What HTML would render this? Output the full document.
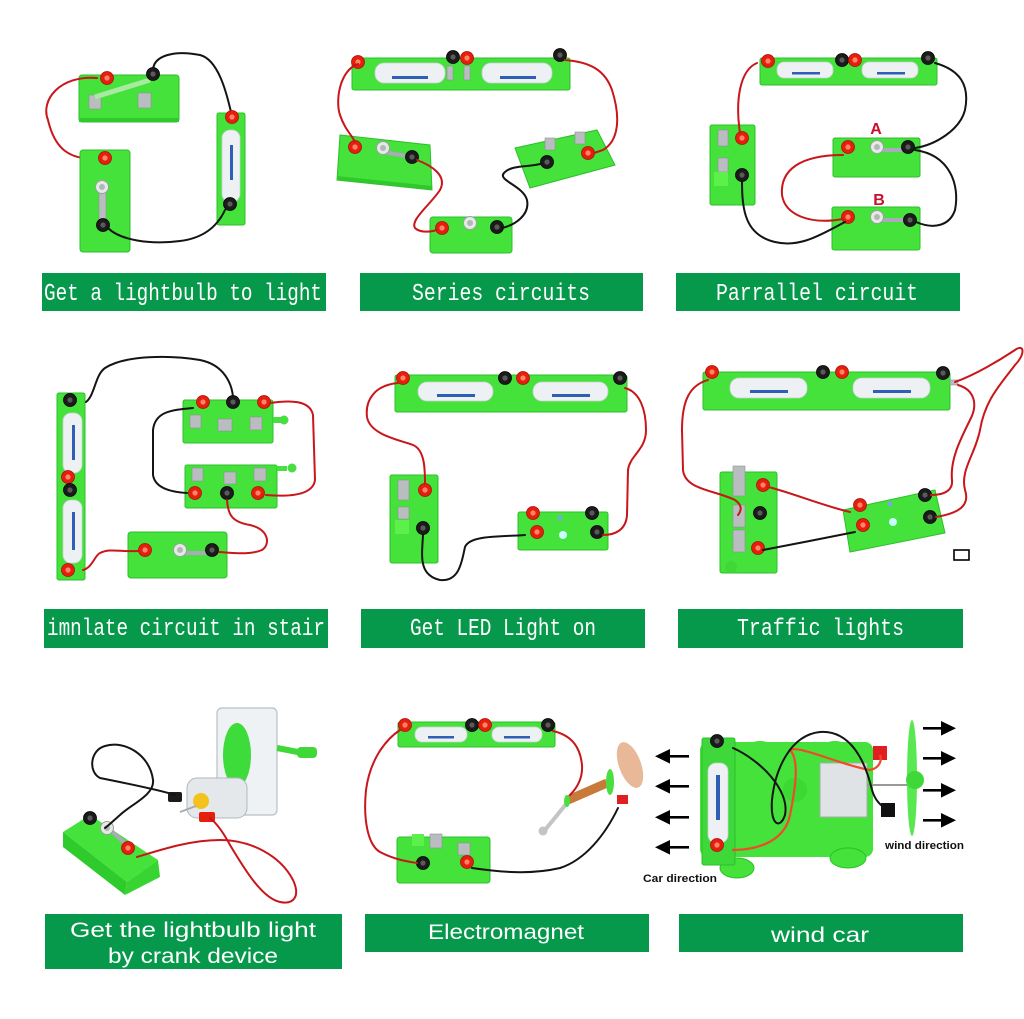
<!DOCTYPE html>
<html><head><meta charset="utf-8"><style>
html,body{margin:0;padding:0;background:#fff;}
svg{display:block;}
.b{fill:#44e23a;stroke:#2cbf2a;stroke-width:1;}
.bs{fill:#30c82c;}
.cell{fill:#eef1f3;stroke:#c9cfd3;stroke-width:.8;}
.blu{fill:#2f5fb5;}
.m{fill:#b9bdbf;stroke:#8e9396;stroke-width:.6;}
.wr{fill:none;stroke:#c8161a;stroke-width:2;stroke-linecap:round;}
.wk{fill:none;stroke:#141414;stroke-width:2;stroke-linecap:round;}
.bn{fill:#07994b;}
.t1{font-family:"Liberation Mono",monospace;font-size:24px;fill:#fff;}
.t3{font-family:"Liberation Sans",sans-serif;font-size:21px;fill:#fff;}
.lb{font-family:"Liberation Sans",sans-serif;font-size:11px;font-weight:bold;fill:#111;}
</style></head><body>
<svg width="1024" height="1019" viewBox="0 0 1024 1019" xmlns="http://www.w3.org/2000/svg">
<defs>
<g id="R"><circle r="6.5" fill="#e61e0e" stroke="#a8120a" stroke-width=".8"/><circle r="2.6" fill="#ff8466"/></g>
<g id="K"><circle r="6.5" fill="#1b1b1b" stroke="#000" stroke-width=".8"/><circle r="2.6" fill="#5a5a5a"/></g>
<g id="L"><circle r="6.5" fill="#e4ebe6" stroke="#9aa09c" stroke-width="1"/><circle r="3" fill="#b2b8b4"/></g>
</defs>
<rect width="1024" height="1019" fill="#fff"/>

<!-- ============ PANEL 1 ============ -->
<rect class="b" x="79" y="75" width="100" height="47" rx="3"/>
<rect class="bs" x="79" y="118" width="100" height="4"/>
<rect class="m" x="89" y="95" width="12" height="14"/>
<rect class="m" x="138" y="93" width="13" height="15"/>
<line x1="95" y1="97" x2="150" y2="80" stroke="#a8eaa0" stroke-width="5"/>
<path class="wr" d="M97,78 C60,75 40,100 48,120 C55,150 70,160 99,159"/>
<path class="wk" d="M153,72 C152,55 175,50 200,55 C220,60 228,100 231,112"/>
<use href="#R" x="107" y="78"/><use href="#K" x="153" y="74"/>
<rect class="b" x="80" y="150" width="50" height="102" rx="3"/>
<rect class="m" x="99" y="190" width="7" height="36"/>
<use href="#R" x="105" y="158"/><use href="#L" x="102" y="187"/><use href="#K" x="103" y="225"/>
<rect class="b" x="217" y="113" width="28" height="112" rx="2"/>
<rect class="cell" x="222" y="130" width="18" height="72" rx="8"/>
<rect class="blu" x="230" y="145" width="3" height="35"/>
<use href="#R" x="232" y="117"/><use href="#K" x="230" y="204"/>
<path class="wk" d="M108,228 C120,240 150,245 180,241 C205,238 218,225 225,210"/>

<!-- ============ PANEL 2 ============ -->
<rect class="b" x="352" y="58" width="218" height="32" rx="2"/>
<rect class="cell" x="375" y="63" width="70" height="20" rx="9"/>
<rect class="cell" x="482" y="63" width="70" height="20" rx="9"/>
<rect class="blu" x="392" y="76" width="36" height="3"/>
<rect class="blu" x="500" y="76" width="36" height="3"/>
<rect class="m" x="447" y="66" width="6" height="14"/><rect class="m" x="464" y="66" width="6" height="14"/>
<use href="#R" x="358" y="62"/><use href="#K" x="453" y="57"/><use href="#R" x="467" y="58"/><use href="#K" x="560" y="55"/>
<path class="b" d="M340,135 L430,145 L432,190 L337,180 Z"/>
<path class="bs" d="M337,176 L432,186 L432,190 L337,180 Z"/>
<line x1="383" y1="152" x2="412" y2="157" stroke="#aab" stroke-width="4"/>
<use href="#R" x="355" y="147"/><use href="#L" x="383" y="148"/><use href="#K" x="412" y="157"/>
<rect class="b" x="430" y="217" width="82" height="36" rx="3"/>
<use href="#R" x="442" y="228"/><use href="#L" x="470" y="223"/><use href="#K" x="497" y="227"/>
<path class="b" d="M515,148 L597,130 L615,165 L530,188 Z"/>
<rect class="m" x="545" y="138" width="10" height="12"/><rect class="m" x="575" y="132" width="10" height="12"/>
<use href="#K" x="547" y="162"/><use href="#R" x="588" y="153"/>
<path class="wr" d="M358,64 C340,70 335,100 340,115 C345,130 352,135 355,142"/>
<path class="wr" d="M417,160 C430,165 448,175 440,190 C430,205 410,220 415,228 C420,233 430,232 437,230"/>
<path class="wk" d="M502,228 C515,225 530,215 527,200 C523,185 495,180 505,172 C512,165 530,167 540,164"/>
<path class="wr" d="M565,60 C590,62 605,70 612,90 C620,115 620,140 603,150 L594,153"/>

<!-- ============ PANEL 3 ============ -->
<rect class="b" x="760" y="58" width="177" height="27" rx="2"/>
<rect class="cell" x="777" y="62" width="56" height="16" rx="7"/>
<rect class="cell" x="862" y="62" width="56" height="16" rx="7"/>
<rect class="blu" x="792" y="72" width="28" height="2.5"/><rect class="blu" x="877" y="72" width="28" height="2.5"/>
<use href="#R" x="768" y="61"/><use href="#K" x="842" y="60"/><use href="#R" x="855" y="60"/><use href="#K" x="928" y="58"/>
<rect class="b" x="710" y="125" width="45" height="80" rx="2"/>
<rect class="m" x="718" y="130" width="10" height="16"/><rect class="m" x="718" y="158" width="10" height="14"/>
<rect x="714" y="172" width="14" height="14" fill="#5cf04a"/>
<use href="#R" x="742" y="138"/><use href="#K" x="742" y="175"/>
<rect class="b" x="833" y="138" width="87" height="39" rx="2"/>
<line x1="877" y1="150" x2="908" y2="150" stroke="#aab" stroke-width="4"/>
<use href="#R" x="848" y="147"/><use href="#L" x="877" y="147"/><use href="#K" x="908" y="147"/>
<text x="876" y="134" text-anchor="middle" font-family="Liberation Sans,sans-serif" font-weight="bold" font-size="16" fill="#c8102e">A</text>
<rect class="b" x="832" y="207" width="88" height="43" rx="2"/>
<line x1="877" y1="220" x2="910" y2="220" stroke="#aab" stroke-width="4"/>
<use href="#R" x="848" y="217"/><use href="#L" x="877" y="217"/><use href="#K" x="910" y="220"/>
<text x="879" y="205" text-anchor="middle" font-family="Liberation Sans,sans-serif" font-weight="bold" font-size="16" fill="#c8102e">B</text>
<path class="wr" d="M757,63 C740,70 735,100 740,133"/>
<path class="wk" d="M935,63 C960,70 970,85 965,110 C960,130 935,145 915,148"/>
<path class="wk" d="M915,150 C950,155 960,185 955,210 C950,225 935,230 916,222"/>
<path class="wr" d="M843,155 C800,155 780,170 782,195 C785,215 810,225 843,219"/>
<path class="wk" d="M742,181 C742,210 745,235 775,242 C800,248 820,235 845,222"/>

<!-- ============ PANEL 4 ============ -->
<rect class="b" x="57" y="393" width="28" height="187" rx="2"/>
<rect class="cell" x="63" y="413" width="19" height="60" rx="8"/>
<rect class="cell" x="63" y="500" width="19" height="63" rx="8"/>
<rect class="blu" x="72" y="425" width="3" height="35"/><rect class="blu" x="72" y="512" width="3" height="38"/>
<use href="#K" x="70" y="400"/><use href="#R" x="68" y="477"/><use href="#K" x="70" y="490"/><use href="#R" x="68" y="570"/>
<rect class="b" x="183" y="400" width="90" height="43" rx="2"/>
<rect class="m" x="190" y="415" width="11" height="13"/><rect class="m" x="218" y="419" width="14" height="12"/><rect class="m" x="250" y="417" width="12" height="13"/>
<rect x="273" y="417" width="8" height="6" fill="#48e040"/><circle cx="284" cy="420" r="4.5" fill="#48e040"/>
<use href="#R" x="203" y="402"/><use href="#K" x="233" y="402"/><use href="#R" x="264" y="402"/>
<rect class="b" x="185" y="465" width="92" height="43" rx="2"/>
<rect class="m" x="192" y="468" width="11" height="13"/><rect class="m" x="224" y="472" width="12" height="12"/><rect class="m" x="254" y="468" width="12" height="13"/>
<rect x="277" y="466" width="10" height="5" fill="#48e040"/><circle cx="292" cy="468" r="4.5" fill="#48e040"/>
<use href="#R" x="195" y="493"/><use href="#K" x="227" y="493"/><use href="#R" x="258" y="493"/>
<rect class="b" x="128" y="532" width="99" height="46" rx="3"/>
<line x1="180" y1="553" x2="212" y2="553" stroke="#aab" stroke-width="4"/>
<use href="#R" x="145" y="550"/><use href="#L" x="180" y="550"/><use href="#K" x="212" y="550"/>
<path class="wk" d="M86,402 C95,395 95,375 105,368 C125,355 170,355 200,360 C225,365 232,385 233,397"/>
<path class="wk" d="M193,408 C170,410 155,412 153,430 L153,475 C155,488 170,492 187,493"/>
<path class="wr" d="M270,403 C290,400 310,400 313,415 L315,480 C313,495 290,497 266,495"/>
<path class="wr" d="M227,500 C228,515 232,522 250,525 C270,530 270,545 262,550 C250,555 235,553 219,552"/>
<path class="wr" d="M83,570 C92,568 95,555 100,553 C110,548 120,552 138,551"/>

<!-- ============ PANEL 5 ============ -->
<rect class="b" x="395" y="375" width="232" height="37" rx="2"/>
<rect class="cell" x="418" y="382" width="75" height="19" rx="9"/>
<rect class="cell" x="533" y="382" width="75" height="19" rx="9"/>
<rect class="blu" x="437" y="394" width="38" height="3"/><rect class="blu" x="552" y="394" width="38" height="3"/>
<use href="#R" x="403" y="378"/><use href="#K" x="505" y="378"/><use href="#R" x="523" y="378"/><use href="#K" x="620" y="378"/>
<rect class="b" x="390" y="475" width="48" height="88" rx="2"/>
<rect class="m" x="398" y="480" width="11" height="20"/><rect class="m" x="398" y="507" width="11" height="12"/>
<rect x="395" y="520" width="14" height="14" fill="#5cf04a"/>
<use href="#R" x="425" y="490"/><use href="#K" x="423" y="528"/>
<rect class="b" x="518" y="512" width="90" height="38" rx="2"/>
<circle cx="563" cy="535" r="4" fill="#c8ffff"/><circle cx="560" cy="518" r="2.5" fill="#7ad"/>
<use href="#R" x="533" y="513"/><use href="#R" x="537" y="532"/><use href="#K" x="592" y="513"/><use href="#K" x="597" y="532"/>
<path class="wr" d="M398,383 C375,385 365,400 367,417 C370,435 400,440 413,445 C425,450 425,470 425,484"/>
<path class="wr" d="M625,388 C640,392 646,410 646,430 C646,450 630,455 628,470 L627,515 C626,530 615,535 603,535"/>
<path class="wk" d="M423,535 C422,555 418,575 440,580 C460,582 462,560 465,547 C470,535 500,537 525,535"/>

<!-- ============ PANEL 6 ============ -->
<rect class="b" x="703" y="372" width="247" height="38" rx="2"/>
<rect class="cell" x="730" y="378" width="77" height="20" rx="9"/>
<rect class="cell" x="853" y="378" width="77" height="20" rx="9"/>
<rect class="blu" x="750" y="390" width="38" height="3"/><rect class="blu" x="873" y="390" width="38" height="3"/>
<rect class="m" x="950" y="380" width="8" height="5"/>
<use href="#R" x="712" y="372"/><use href="#K" x="823" y="372"/><use href="#R" x="842" y="372"/><use href="#K" x="943" y="373"/>
<rect class="b" x="720" y="472" width="57" height="101" rx="2"/>
<rect class="m" x="733" y="466" width="12" height="30"/><rect class="m" x="733" y="505" width="12" height="22"/><rect class="m" x="733" y="530" width="12" height="22"/>
<circle cx="731" cy="567" r="6" fill="#40d838"/>
<use href="#R" x="763" y="485"/><use href="#K" x="760" y="513"/><use href="#R" x="758" y="548"/>
<path class="b" d="M843,510 L935,490 L945,533 L850,552 Z"/>
<circle cx="893" cy="522" r="4" fill="#c8ffff"/><circle cx="890" cy="504" r="2.5" fill="#7ad"/>
<use href="#R" x="860" y="505"/><use href="#R" x="863" y="525"/><use href="#K" x="925" y="495"/><use href="#K" x="930" y="517"/>
<rect x="954" y="550" width="15" height="10" fill="#fff" stroke="#000" stroke-width="1.6"/>
<path class="wr" d="M708,380 C690,385 682,400 682,430 L683,470 C685,490 715,490 735,500 C742,505 742,510 738,515"/>
<path class="wr" d="M768,487 C790,492 820,505 850,512"/>
<path class="wk" d="M763,550 C790,545 830,537 855,532"/>
<path class="wr" d="M955,382 C975,375 1000,360 1015,350 C1025,343 1025,355 1015,365 C1000,385 985,400 980,430 C975,455 960,470 965,490 C970,505 960,513 936,517"/>
<path class="wr" d="M958,385 C975,390 978,405 970,420 C960,440 950,460 952,480 C953,490 945,495 931,495"/>

<!-- ============ PANEL 7 ============ -->
<path d="M63,832 L90,815 L158,860 L127,882 Z" fill="#44e23a"/>
<path d="M63,832 L127,882 L125,895 L63,847 Z" fill="#2fca2c"/>
<path d="M127,882 L158,860 L160,877 L125,895 Z" fill="#38d432"/>
<line x1="107" y1="827" x2="128" y2="846" stroke="#aab" stroke-width="4"/>
<use href="#K" x="90" y="818"/><use href="#L" x="107" y="828"/><use href="#R" x="128" y="848"/>
<rect x="217" y="708" width="60" height="107" rx="5" fill="#eef2f4" stroke="#b8c0c4" stroke-width="1.2"/>
<ellipse cx="237" cy="755" rx="14" ry="32" fill="#3edc3a"/>
<path d="M277,748 L298,752" stroke="#40d838" stroke-width="6"/>
<rect x="297" y="747" width="20" height="11" rx="4" fill="#40d838"/>
<rect x="187" y="778" width="60" height="40" rx="10" fill="#e4e8ea" stroke="#b0b8bc" stroke-width="1"/>
<circle cx="201" cy="801" r="8" fill="#f3c21e"/>
<line x1="180" y1="812" x2="196" y2="806" stroke="#aaa" stroke-width="2"/>
<rect x="168" y="792" width="14" height="10" rx="2" fill="#1b1b1b"/>
<rect x="199" y="812" width="16" height="10" rx="2" fill="#e61e0e"/>
<path class="wk" d="M175,795 C160,790 120,782 100,778 C88,772 90,750 105,746 C125,740 150,755 153,780 C155,795 130,805 120,815 C112,822 108,826 105,828"/>
<path class="wr" d="M137,857 C160,850 190,840 220,840 C250,840 280,855 293,880 C300,895 295,905 280,902 C262,898 245,870 230,845 C222,830 215,822 210,818"/>

<!-- ============ PANEL 8 ============ -->
<rect class="b" x="398" y="722" width="157" height="25" rx="2"/>
<rect class="cell" x="415" y="727" width="52" height="15" rx="7"/>
<rect class="cell" x="492" y="727" width="50" height="15" rx="7"/>
<rect class="blu" x="428" y="736" width="26" height="2.5"/><rect class="blu" x="504" y="736" width="26" height="2.5"/>
<use href="#R" x="405" y="725"/><use href="#K" x="472" y="725"/><use href="#R" x="485" y="725"/><use href="#K" x="548" y="725"/>
<rect class="b" x="397" y="837" width="93" height="46" rx="3"/>
<rect x="412" y="834" width="12" height="12" fill="#5cf04a"/>
<rect class="m" x="430" y="834" width="12" height="14"/><rect class="m" x="458" y="843" width="12" height="12"/>
<use href="#K" x="423" y="863"/><use href="#R" x="467" y="862"/>
<line x1="545" y1="830" x2="567" y2="803" stroke="#c4c4c4" stroke-width="4"/>
<circle cx="543" cy="831" r="4.5" fill="#c4c4c4"/>
<line x1="568" y1="800" x2="607" y2="783" stroke="#c77a3a" stroke-width="9"/>
<ellipse cx="567" cy="801" rx="3" ry="6" fill="#48e040"/>
<ellipse cx="610" cy="782" rx="4" ry="13" fill="#48e040"/>
<ellipse cx="630" cy="765" rx="11" ry="24" fill="#e8b898" transform="rotate(-20 630 765)"/>
<rect x="617" y="795" width="11" height="9" fill="#e02020"/>
<path class="wr" d="M400,730 C385,740 370,760 366,790 C363,820 368,845 380,852 C395,860 410,862 417,863"/>
<path class="wr" d="M553,731 C570,735 580,745 582,765 C583,780 575,790 570,795"/>
<path class="wk" d="M472,868 C500,872 530,875 560,868 C585,860 605,835 618,808"/>

<!-- ============ PANEL 9 ============ -->
<ellipse cx="760" cy="747" rx="12" ry="6" fill="#40d838"/>
<ellipse cx="835" cy="747" rx="12" ry="6" fill="#40d838"/>
<rect x="700" y="742" width="173" height="115" rx="8" fill="#44e23a"/>
<ellipse cx="737" cy="868" rx="17" ry="10" fill="#44e23a" stroke="#2cbf2a"/>
<ellipse cx="848" cy="858" rx="18" ry="10" fill="#44e23a" stroke="#2cbf2a"/>
<circle cx="795" cy="790" r="12" fill="#3cd834"/>
<rect x="702" y="738" width="33" height="127" rx="2" fill="#3ed83a" stroke="#2cbf2a"/>
<rect class="cell" x="708" y="763" width="20" height="80" rx="8"/>
<rect class="blu" x="716" y="775" width="4" height="45"/>
<use href="#K" x="717" y="741"/><use href="#R" x="717" y="845"/>
<rect x="820" y="763" width="47" height="54" fill="#dfe3e6" stroke="#aaa"/>
<line x1="867" y1="785" x2="912" y2="785" stroke="#999" stroke-width="2"/>
<rect x="873" y="746" width="14" height="14" fill="#e02020"/>
<rect x="881" y="803" width="14" height="14" fill="#111"/>
<ellipse cx="912" cy="778" rx="5" ry="58" fill="#5ae852"/>
<circle cx="915" cy="780" r="9" fill="#40d838"/>
<path d="M732,850 C760,850 785,840 790,815 C795,790 800,760 790,750 C800,745 840,765 870,770 C880,768 882,760 880,755" fill="none" stroke="#f04a2a" stroke-width="2.2"/>
<path class="wk" d="M733,748 C760,760 790,790 785,815 C780,830 770,825 772,800 C775,770 790,735 820,732 C850,730 865,760 872,790 C875,800 880,805 885,808"/>
<g fill="#000">
<rect x="668" y="755" width="21" height="2.6"/><polygon points="655,756.3 670,749 670,763.6"/>
<rect x="668" y="785" width="21" height="2.6"/><polygon points="655,786.3 670,779 670,793.6"/>
<rect x="668" y="816" width="21" height="2.6"/><polygon points="655,817.3 670,810 670,824.6"/>
<rect x="668" y="846" width="21" height="2.6"/><polygon points="655,847.3 670,840 670,854.6"/>
<rect x="923" y="727" width="19" height="2.6"/><polygon points="956,728.3 941,721 941,735.6"/>
<rect x="923" y="757" width="19" height="2.6"/><polygon points="956,758.3 941,751 941,765.6"/>
<rect x="923" y="789" width="19" height="2.6"/><polygon points="956,790.3 941,783 941,797.6"/>
<rect x="923" y="819" width="19" height="2.6"/><polygon points="956,820.3 941,813 941,827.6"/>
</g>
<text class="lb" x="885" y="849" textLength="79" lengthAdjust="spacingAndGlyphs">wind direction</text>
<text class="lb" x="643" y="882" textLength="74" lengthAdjust="spacingAndGlyphs">Car direction</text>

<!-- ============ BANNERS ============ -->
<rect class="bn" x="42" y="273" width="284" height="38"/>
<rect class="bn" x="360" y="273" width="283" height="38"/>
<rect class="bn" x="676" y="273" width="284" height="38"/>
<text class="t1" x="44" y="300" textLength="278" lengthAdjust="spacingAndGlyphs">Get a lightbulb to light</text>
<text class="t1" x="412" y="300" textLength="178" lengthAdjust="spacingAndGlyphs">Series circuits</text>
<text class="t1" x="716" y="300" textLength="202" lengthAdjust="spacingAndGlyphs">Parrallel circuit</text>

<rect class="bn" x="44" y="609" width="284" height="39"/>
<rect class="bn" x="361" y="609" width="284" height="39"/>
<rect class="bn" x="678" y="609" width="285" height="39"/>
<text class="t1" x="47" y="635" textLength="278" lengthAdjust="spacingAndGlyphs">imnlate circuit in stair</text>
<text class="t1" x="410" y="635" textLength="186" lengthAdjust="spacingAndGlyphs">Get LED Light on</text>
<text class="t1" x="737" y="635" textLength="167" lengthAdjust="spacingAndGlyphs">Traffic lights</text>

<rect class="bn" x="45" y="914" width="297" height="55"/>
<rect class="bn" x="365" y="914" width="284" height="38"/>
<rect class="bn" x="679" y="914" width="284" height="38"/>
<text class="t3" x="70" y="937" textLength="246" lengthAdjust="spacingAndGlyphs">Get the lightbulb light</text>
<text class="t3" x="108" y="963" textLength="170" lengthAdjust="spacingAndGlyphs">by crank device</text>
<text class="t3" x="428" y="939" textLength="156" lengthAdjust="spacingAndGlyphs">Electromagnet</text>
<text class="t3" x="771" y="942" textLength="98" lengthAdjust="spacingAndGlyphs">wind car</text>
</svg>
</body></html>
